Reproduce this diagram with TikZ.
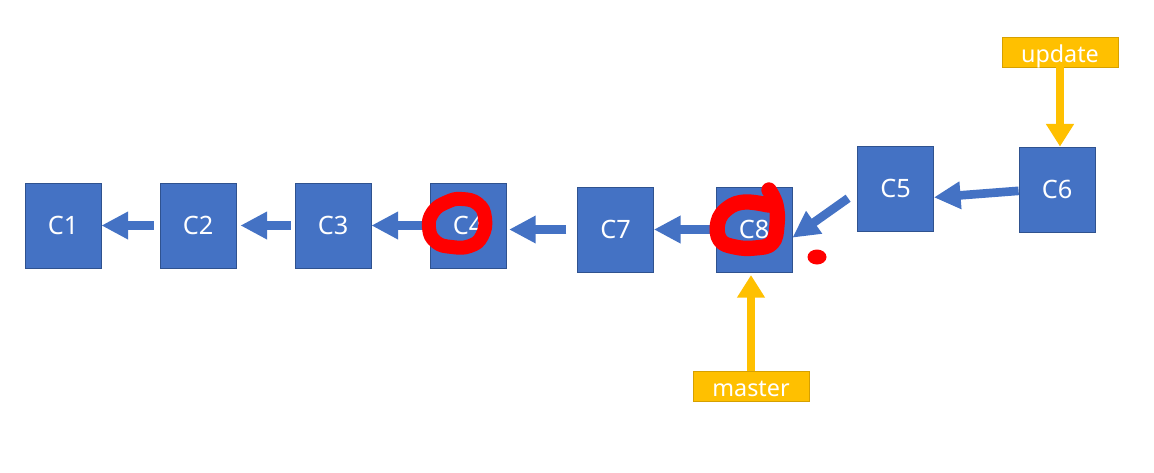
\documentclass[tikz,border=0pt]{standalone}
\usepackage{fontspec}
\setmainfont{Noto Sans}
\usetikzlibrary{arrows.meta, positioning, calc}
\definecolor{commitblue}{RGB}{68,114,196}
\definecolor{commitedge}{RGB}{47,82,143}
\definecolor{tagyellow}{RGB}{255,192,0}
\definecolor{tagedge}{RGB}{214,160,0}
\definecolor{markred}{RGB}{255,0,0}

\begin{document}
\begin{tikzpicture}[
    x=0.75pt, y=-0.75pt,
    commit/.style={rectangle, draw=commitedge, line width=0.6pt, fill=commitblue, minimum width=57pt, minimum height=63.75pt, inner sep=0pt, font=\fontsize{19}{22}\selectfont, text=white},
    tag/.style={rectangle, draw=tagedge, line width=0.6pt, fill=tagyellow, minimum width=87pt, minimum height=22.5pt, inner sep=0pt, text height=15pt, text depth=0pt, font=\fontsize{17.5}{20}\selectfont, text=white},
    arr/.style={-{Triangle[width=19.5pt, length=20pt]}, line width=6.5pt, draw=commitblue},
    tagarr/.style={-{Triangle[width=20pt, length=17pt]}, line width=6.25pt, draw=tagyellow},
    scribble/.style={draw=markred, line width=10.5pt, line cap=round, line join=round},
]
\useasboundingbox (0,0) rectangle (1154,472);

% Commits
\node[commit] (c1) at (63,225.5) {C1};
\node[commit] (c2) at (198,225.5) {C2};
\node[commit] (c3) at (333,225.5) {C3};
\node[commit] (c4) at (468,225.5) {C4};
\node[commit] (c7) at (615.5,229.5) {C7};
\node[commit] (c8) at (754,229.5) {C8};
\node[commit] (c5) at (895.5,188.5) {C5};
\node[commit] (c6) at (1057,189.5) {C6};

% Branch labels
\node[tag] (upd) at (1060,52) {update};
\node[tag] (mst) at (751,386) {master};

% Parent arrows
\draw[arr, shorten <=4.5pt] (c2) -- (c1);
\draw[arr, shorten <=3pt, shorten >=3pt] (c3) -- (c2);
\draw[arr, shorten <=3pt] (c4) -- (c3);
\draw[arr, shorten <=8pt, shorten >=2pt] (c7.west) -- (c7.west -| c4.east);
\draw[arr] (c8) -- (c7);
\draw[arr, shorten <=8.25pt] (c5.185) -- (c8.-12);
\draw[arr] (c6.182) -- (c5.-13);

% Branch pointers
\draw[tagarr] (upd.south) -- (upd.south |- c6.north);
\draw[tagarr, shorten >=2pt] (mst.north) -- (mst.north |- c8.south);

% Red marks
\draw[scribble] plot[smooth cycle, tension=0.8] coordinates {(429,228) (433,212) (447,202) (462,199) (478,204) (485,218) (482,236) (470,246) (452,247) (436,242)};
\draw[scribble, line width=11.5pt] plot[smooth, tension=0.7] coordinates {(769,190) (776,205) (777,225) (772,243) (755,248) (735,247) (720,240) (718,222) (728,208) (745,202) (768,205)};
\fill[markred] (817,257) ellipse (9.5 and 7.5);
\end{tikzpicture}
\end{document}
